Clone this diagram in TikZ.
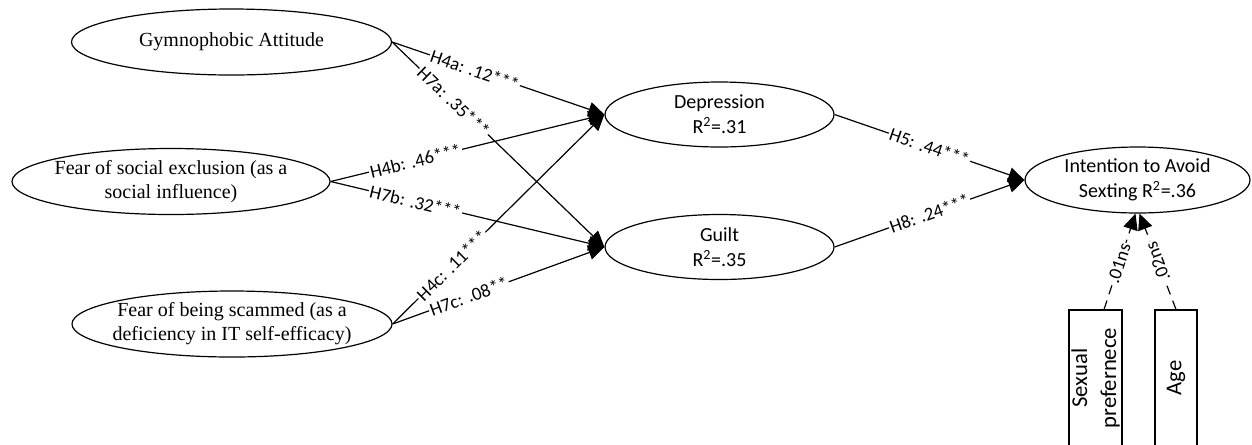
\documentclass[tikz,border=0pt]{standalone}
\usepackage{fontspec}
\setmainfont{Liberation Serif}
\newfontfamily\calibri{Carlito}
\usetikzlibrary{arrows.meta,shapes.geometric}

\tikzset{
  construct/.style={ellipse, draw, line width=0.9pt, inner sep=0pt},
  bigconstruct/.style={construct, minimum width=240pt, minimum height=49.5pt},
  smallconstruct/.style={construct, minimum width=171.75pt, minimum height=48.75pt,
    align=center, font=\calibri\fontsize{15}{18.5}\selectfont},
  serifname/.style={align=center, font=\fontsize{15}{18}\selectfont},
  observed/.style={draw, line width=0.9pt, rotate=90, inner sep=0pt, minimum width=102pt,
    align=center, font=\calibri\fontsize{17}{21.75}\selectfont},
  effect/.style={line width=0.9pt, -{Triangle[length=12pt,width=11pt]}},
  covar/.style={effect, dash pattern=on 7pt off 5pt},
  coef/.style={font=\calibri\fontsize{14}{16}\selectfont, fill=white, inner sep=1pt, sloped},
}

\begin{document}
\begin{tikzpicture}[x=0.75pt,y=-0.75pt]
\useasboundingbox (0,0) rectangle (1252,444);

\node[bigconstruct, label={[serifname]center:Gymnophobic Attitude}] (gymno) at (231.5,42) {};
\node[bigconstruct, minimum width=238.5pt,
  label={[serifname]center:Fear of social exclusion (as a\\social influence)}] (exclusion) at (171,181.5) {};
\node[bigconstruct,
  label={[serifname]center:Fear of being scammed (as a\\deficiency in IT self-efficacy)}] (scam) at (232,324) {};

\node[smallconstruct] (depression) at (719.5,114.5) {Depression\\R\textsuperscript{2}=.31};
\node[smallconstruct] (guilt) at (719.5,247) {Guilt\\R\textsuperscript{2}=.35};
\node[smallconstruct, minimum width=168.75pt, minimum height=49.5pt] (intention) at (1137.5,180)
  {Intention to Avoid\\Sexting R\textsuperscript{2}=.36};

\node[observed, minimum height=39.75pt] (sexpref) at (1095.5,378) {Sexual\\prefernece};
\node[observed, minimum height=31.5pt] (age) at (1176,378) {Age};

\draw[effect] (gymno.east) -- node[coef, pos=0.39] {H4a: .12***} (depression.west);
\draw[effect] (gymno.east) -- node[coef, pos=0.29] {H7a: .35***} (guilt.west);
\draw[effect] (exclusion.east) -- node[coef, pos=0.31] {H4b: .46***} (depression.west);
\draw[effect] (exclusion.east) -- node[coef, pos=0.31] {H7b: .32***} (guilt.west);
\draw[effect] (scam.east) -- node[coef, pos=0.28] {H4c: .11***} (depression.west);
\draw[effect] (scam.east) -- node[coef, pos=0.36] {H7c: .08**} (guilt.west);

\draw[effect] (depression.east) -- node[coef, pos=0.5] {H5: .44***} (intention.west);
\draw[effect] (guilt.east) -- node[coef, pos=0.5] {H8: .24***} (intention.west);

\draw[covar] ([xshift=6.4pt]sexpref.east) -- node[coef, pos=0.48] {.01ns} ([xshift=-1.5pt]intention.south);
\draw[covar] (age.east) -- node[coef, pos=0.5, allow upside down] {.02ns} ([xshift=1.5pt]intention.south);
\end{tikzpicture}
\end{document}
